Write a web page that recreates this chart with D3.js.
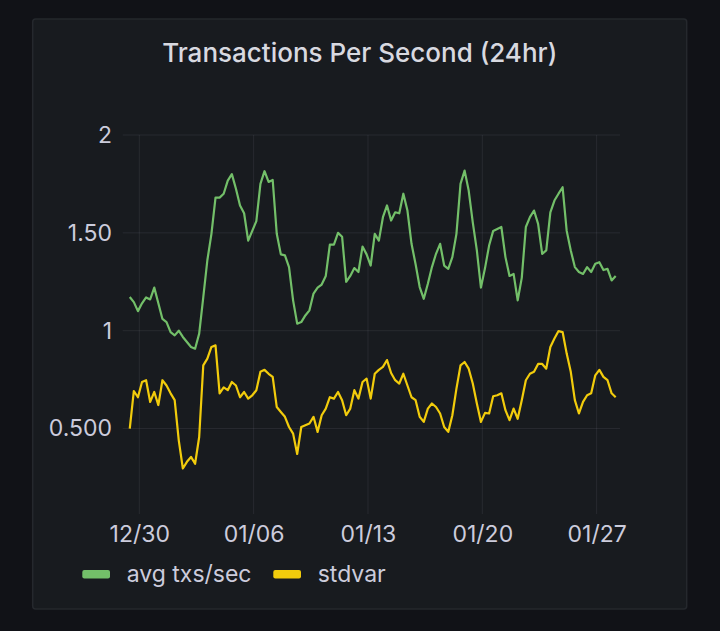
<!DOCTYPE html>
<html>
<head>
<meta charset="utf-8">
<script src="https://cdn.jsdelivr.net/npm/d3@7"></script>
<style>
    html, body { margin: 0; padding: 0; background: #111217; }
    svg { display: block; }
    text { font-family: Inter, Roboto, "Noto Sans", sans-serif; fill: #ccccdc; }
</style>
</head>
<body>
<svg id="chart"></svg>
<script>
// series sampled every 6 hours, starting 12/29 10:00
var startTime = Date.UTC(2021, 11, 29, 10);
var stepHours = 6;

var avgTxs = [
    1.172, 1.146, 1.10, 1.14, 1.17, 1.16, 1.22, 1.14, 1.06, 1.044,
    0.993, 0.976, 1.0, 0.968, 0.942, 0.917, 0.908, 0.985, 1.17, 1.36,
    1.495, 1.68, 1.68, 1.70, 1.767, 1.80, 1.725, 1.64, 1.60, 1.46,
    1.51, 1.56, 1.75, 1.815, 1.76, 1.77, 1.495, 1.39, 1.385, 1.325,
    1.155, 1.036, 1.044, 1.078, 1.104, 1.19, 1.22, 1.236, 1.28, 1.44,
    1.44, 1.50, 1.48, 1.25, 1.28, 1.32, 1.30, 1.43, 1.39, 1.333,
    1.495, 1.46, 1.58, 1.64, 1.563, 1.605, 1.60, 1.70, 1.614, 1.444,
    1.34, 1.223, 1.163, 1.24, 1.325, 1.393, 1.444, 1.333, 1.316, 1.376,
    1.495, 1.75, 1.818, 1.716, 1.554, 1.41, 1.22, 1.32, 1.435, 1.51,
    1.52, 1.53, 1.376, 1.28, 1.29, 1.155, 1.27, 1.53, 1.58, 1.614,
    1.546, 1.393, 1.41, 1.605, 1.665, 1.70, 1.733, 1.51, 1.41, 1.325,
    1.30, 1.29, 1.325, 1.30, 1.342, 1.35, 1.31, 1.316, 1.257, 1.28
];

var stdvar = [
    0.50, 0.692, 0.66, 0.738, 0.747, 0.636, 0.687, 0.62, 0.747, 0.72,
    0.68, 0.645, 0.44, 0.296, 0.33, 0.355, 0.32, 0.457, 0.823, 0.857,
    0.917, 0.925, 0.68, 0.71, 0.696, 0.738, 0.72, 0.66, 0.687, 0.653,
    0.67, 0.696, 0.79, 0.80, 0.78, 0.764, 0.61, 0.585, 0.56, 0.508,
    0.474, 0.37, 0.508, 0.517, 0.526, 0.56, 0.483, 0.568, 0.602, 0.66,
    0.653, 0.687, 0.645, 0.568, 0.602, 0.696, 0.653, 0.738, 0.755, 0.653,
    0.78, 0.80, 0.815, 0.85, 0.784, 0.747, 0.73, 0.78, 0.72, 0.66,
    0.645, 0.56, 0.534, 0.602, 0.628, 0.61, 0.577, 0.508, 0.483, 0.568,
    0.704, 0.823, 0.84, 0.806, 0.73, 0.628, 0.534, 0.58, 0.577, 0.665,
    0.67, 0.68, 0.594, 0.543, 0.602, 0.55, 0.645, 0.747, 0.78, 0.79,
    0.83, 0.83, 0.806, 0.917, 0.96, 0.998, 0.993, 0.883, 0.79, 0.645,
    0.577, 0.636, 0.67, 0.68, 0.772, 0.80, 0.764, 0.747, 0.68, 0.66
];

var seriesNames = ['avg txs/sec', 'stdvar'];
var tickDates = ['2021-12-30', '2022-01-06', '2022-01-13', '2022-01-20', '2022-01-27'];
var tickLabels = ['12/30', '01/06', '01/13', '01/20', '01/27'];
var yTicks = [0.5, 1, 1.5, 2];
var yTickLabels = ['0.500', '1', '1.50', '2'];

var config = {
    width: 720,
    height: 631,
    panel: {x: 32.7, y: 19, w: 654, h: 590},
    plot: {left: 122.7, right: 620, top: 135, bottom: 514},
    colors: ['#73bf69', '#f2cc0c'],
    grid: 'rgba(204, 204, 220, 0.09)',
    fontSize: '23px'
};

var svg = d3.select('#chart')
    .attr('width', config.width)
    .attr('height', config.height);

svg.append('rect')
    .attr('x', config.panel.x)
    .attr('y', config.panel.y)
    .attr('width', config.panel.w)
    .attr('height', config.panel.h)
    .attr('rx', 3)
    .style('fill', '#181b1f')
    .style('stroke', '#25282d')
    .style('stroke-width', 1.5);

svg.append('text')
    .attr('x', config.panel.x + config.panel.w / 2)
    .attr('y', 61.5)
    .attr('text-anchor', 'middle')
    .style('font-size', '26px')
    .style('font-weight', 500)
    .style('fill', '#d8d9e0')
    .text('Transactions Per Second (24hr)');

var x = d3.scaleUtc()
    .domain([Date.UTC(2021, 11, 28, 23, 37), Date.UTC(2022, 0, 28, 10, 20)])
    .range([config.plot.left, config.plot.right]);

var y = d3.scaleLinear()
    .domain([0.0634, 2])
    .range([config.plot.bottom, config.plot.top]);

var timeAt = function (i) {
    return new Date(startTime + i * stepHours * 3600 * 1000);
};

var ticks = tickDates.map(function (d) {
    return new Date(d + 'T00:00:00Z');
});

// grid
var grid = svg.append('g').attr('class', 'grid');

grid.selectAll('.hgrid')
    .data(yTicks)
    .enter()
    .append('line')
    .attr('x1', config.plot.left)
    .attr('x2', config.plot.right)
    .attr('y1', function (d) { return y(d); })
    .attr('y2', function (d) { return y(d); })
    .style('stroke', config.grid)
    .style('stroke-width', 1);

grid.selectAll('.vgrid')
    .data(ticks)
    .enter()
    .append('line')
    .attr('x1', function (d) { return x(d); })
    .attr('x2', function (d) { return x(d); })
    .attr('y1', config.plot.top)
    .attr('y2', config.plot.bottom)
    .style('stroke', config.grid)
    .style('stroke-width', 1);

// axes
var yAxis = d3.axisLeft(y)
    .tickValues(yTicks)
    .tickSize(0)
    .tickPadding(0)
    .tickFormat(function (d, i) { return yTickLabels[i]; });

svg.append('g')
    .attr('transform', 'translate(112,0)')
    .call(yAxis)
    .call(function (g) { g.select('.domain').remove(); })
    .selectAll('text')
    .style('font-size', config.fontSize)
    .style('fill', '#ccccdc')
    .style('font-family', 'Inter, Roboto, sans-serif');

var xAxis = d3.axisBottom(x)
    .tickValues(ticks)
    .tickSize(0)
    .tickPadding(0)
    .tickFormat(function (d, i) { return tickLabels[i]; });

svg.append('g')
    .attr('transform', 'translate(0,526)')
    .call(xAxis)
    .call(function (g) { g.select('.domain').remove(); })
    .selectAll('text')
    .style('font-size', config.fontSize)
    .style('fill', '#ccccdc')
    .style('font-family', 'Inter, Roboto, sans-serif');

// lines
var line = d3.line()
    .x(function (d, i) { return x(timeAt(i)); })
    .y(function (d) { return y(d); });

var lines = svg.append('g').attr('class', 'lines');

[avgTxs, stdvar].forEach(function (series, k) {
    lines.append('path')
        .datum(series)
        .attr('d', line)
        .style('fill', 'none')
        .style('stroke', config.colors[k])
        .style('stroke-width', 2.2)
        .style('stroke-linejoin', 'round');
});

// legend
var legendX = [82.3, 273.3];
var legend = svg.append('g').attr('class', 'legend');

seriesNames.forEach(function (name, k) {
    legend.append('rect')
        .attr('x', legendX[k])
        .attr('y', 570)
        .attr('width', 27.7)
        .attr('height', 8.5)
        .attr('rx', 2)
        .style('fill', config.colors[k]);

    legend.append('text')
        .attr('x', legendX[k] + 44.4)
        .attr('y', 582)
        .style('font-size', config.fontSize)
        .text(name);
});
</script>
</body>
</html>
